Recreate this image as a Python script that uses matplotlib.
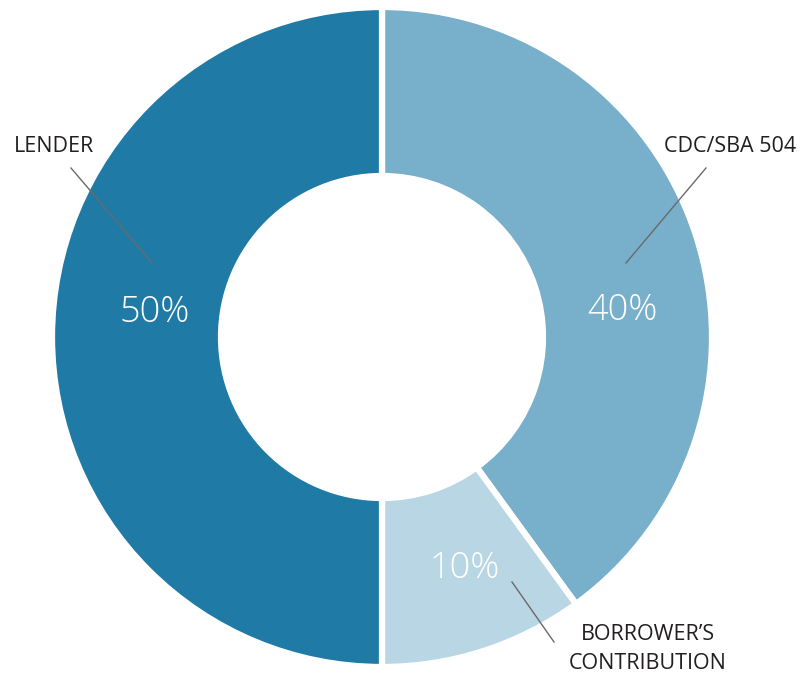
import matplotlib.pyplot as plt

# shares of the project financing, clockwise from 12 o'clock
names = ['CDC/SBA 504', "BORROWER\u2019S\nCONTRIBUTION", 'LENDER']
shares = [40, 10, 50]
pct_labels = ['40%', '10%', '50%']
colors = ['#78AFCB', '#B8D6E4', '#1F7AA5']

plt.rcParams['font.family'] = ['Open Sans', 'DejaVu Sans']

fig = plt.figure(figsize=(8.08, 6.74), dpi=100)
ax = fig.add_axes([0, 0, 1, 1])

# donut in pixel coords, center (382, 337)
ax.pie(shares, colors=colors, startangle=90, counterclock=False,
       center=(382, 337), radius=330, frame=True,
       wedgeprops=dict(width=169, edgecolor='white', linewidth=4.5))
ax.set_xlim(0, 808)
ax.set_ylim(0, 674)
ax.set_aspect('equal')
ax.axis('off')

# percentage text inside the ring
pct_pos = [(622, 363), (465, 106), (155, 361)]
for txt, (x, y) in zip(pct_labels, pct_pos):
    ax.text(x, y, txt, color='white', fontsize=26, fontweight='light',
            ha='center', va='center')

# outside names with leader lines
name_pos = [(730, 527), (648, 25), (54, 527)]
line_ends = [((706, 506), (626, 411)), ((554, 32), (512, 92)), ((71, 506), (152, 411))]
for txt, (x, y), (p0, p1) in zip(names, name_pos, line_ends):
    ax.text(x, y, txt, color='#231F20', fontsize=15.5, ha='center', va='center',
            linespacing=1.45)
    ax.plot([p0[0], p1[0]], [p0[1], p1[1]], color='#6A6A6A', lw=1)

fig.savefig('out.png', dpi=100)
